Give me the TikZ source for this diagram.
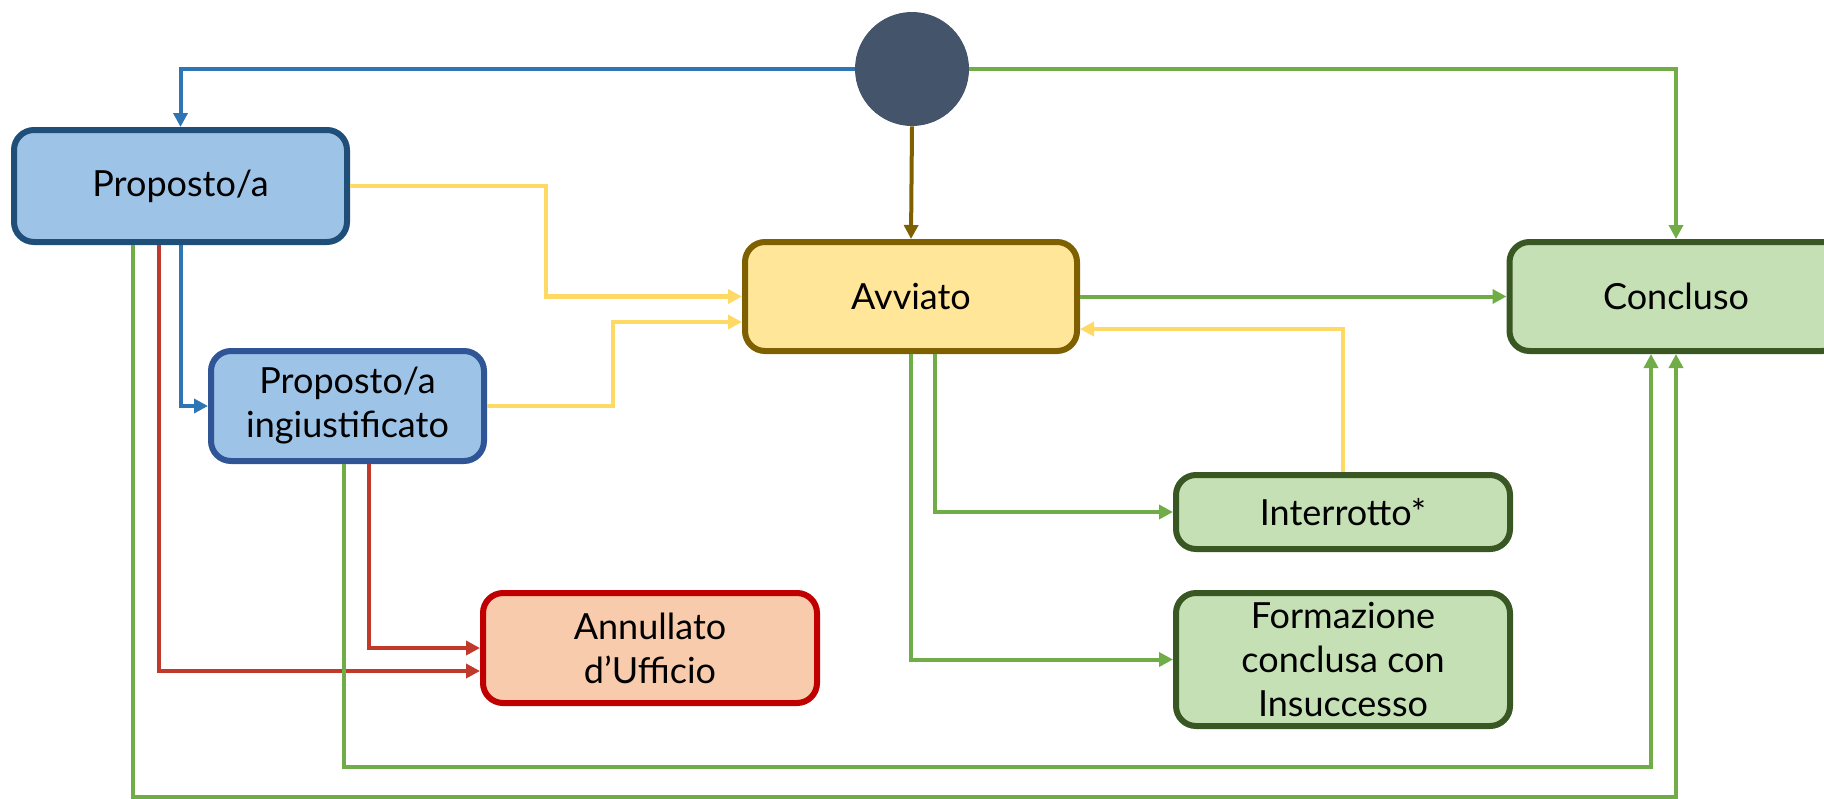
\documentclass[tikz,border=0pt]{standalone}
\usepackage{fontspec}
\setmainfont{Lato}
\usepackage{tikz}
\usetikzlibrary{positioning}
\usetikzlibrary{arrows.meta,shapes}
\usetikzlibrary{calc}
\definecolor{propfill}{HTML}{9DC3E6}
\definecolor{propdraw}{HTML}{1F4E79}
\definecolor{ingiudraw}{HTML}{2F5597}
\definecolor{avvfill}{HTML}{FFE699}
\definecolor{avvdraw}{HTML}{7F6000}
\definecolor{donefill}{HTML}{C5E0B4}
\definecolor{donedraw}{HTML}{385723}
\definecolor{annulfill}{HTML}{F8CBAD}
\definecolor{annuldraw}{HTML}{C00000}
\definecolor{startfill}{HTML}{44546A}
\definecolor{blueline}{HTML}{2E75B6}
\definecolor{greenline}{HTML}{70AD47}
\definecolor{yellowline}{HTML}{FFD966}
\definecolor{redline}{HTML}{C0392B}
\tikzstyle{state}=[rectangle,rounded corners=10pt,line width=3pt,align=center,inner sep=2pt,font=\fontsize{18}{22}\selectfont]
\tikzstyle{bluestate}=[state,fill=propfill,draw=propdraw]
\tikzstyle{ingiustate}=[state,fill=propfill,draw=ingiudraw]
\tikzstyle{avvstate}=[state,fill=avvfill,draw=avvdraw]
\tikzstyle{donestate}=[state,fill=donefill,draw=donedraw]
\tikzstyle{annulstate}=[state,fill=annulfill,draw=annuldraw]
\tikzstyle{startstate}=[circle,fill=startfill,minimum size=57pt,inner sep=0pt]
\tikzstyle{edge} = [draw,line width=2pt,-{Triangle[length=7pt,width=7pt]}]
\tikzstyle{backedge} = [edge,yellowline,line width=2.25pt]

\begin{document}
\begin{tikzpicture}[x=0.5pt,y=-0.5pt]
    \useasboundingbox (0,0) rectangle (1824,798);
    \clip (0,0) rectangle (1824,798);
    % First we draw the states
    \node[startstate] (start) at (912,69) {};
    \foreach \pos/\name/\kind/\w/\h/\label in {{(180.5,186)/prop/bluestate/166.5pt/56pt/{Proposto/a}}, {(347.5,406)/ingiu/ingiustate/136.5pt/55pt/{Proposto/a\\ingiustificato}}, {(911,296.5)/avv/avvstate/166pt/54.5pt/Avviato}, {(1676,296.5)/concl/donestate/166.5pt/54.5pt/Concluso}, {(1343,512)/interr/donestate/167pt/37pt/Interrotto*}, {(1343,659.5)/form/donestate/167pt/66.5pt/{Formazione\\conclusa con\\Insuccesso}}, {(650,648)/annul/annulstate/167pt/55pt/{Annullato\\d’Ufficio}}}
        \node[\kind,minimum width=\w,minimum height=\h] (\name) at \pos {\label};

    % Transitions out of the start state
    \path[edge,blueline] (start.west) -| (prop.north);
    \path[edge,greenline] (start.east) -| (concl.north);
    \path[edge,avvdraw] (start.south) -- (avv.north);

    % Transitions out of Proposto/a
    \path[backedge] (prop.east) -- (546,186) |- (avv.west);
    \path[edge,blueline] (prop.south) |- (ingiu.west);
    \path[edge,redline] ($(prop.south)+(-22,0)$) |- ($(annul.west)+(0,23)$);
    \path[edge,greenline] ($(prop.south)+(-47.5,0)$) -- (133,797) -| (concl.south);

    % Transitions out of Proposto/a ingiustificato
    \path[backedge] (ingiu.east) -| (613,322) -- ($(avv.west)+(0,25.5)$);
    \path[edge,redline] ($(ingiu.south)+(21.5,0)$) |- (annul.west);
    \path[edge,greenline] ($(ingiu.south)+(-3.5,0)$) -- (344,767) -| ($(concl.south)+(-25,0)$);

    % Transitions out of Avviato
    \path[edge,greenline] (avv.east) -- (concl.west);
    \path[edge,greenline] ($(avv.south)+(24,0)$) |- (interr.west);
    \path[edge,greenline] (avv.south) |- (form.west);
    \path[backedge] (interr.north) |- ($(avv.east)+(0,32.5)$);
\end{tikzpicture}
\end{document}
